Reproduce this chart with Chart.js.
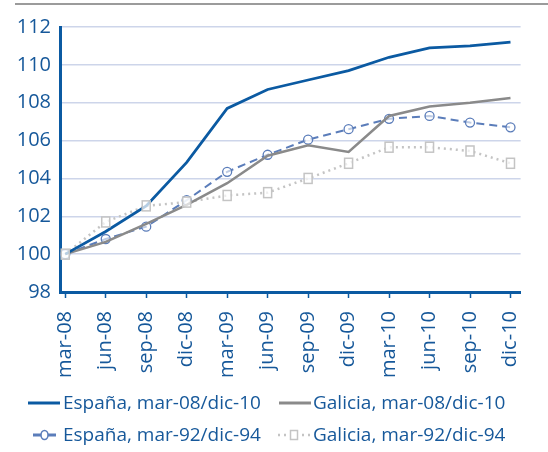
<!DOCTYPE html>
<html>
<head>
<meta charset="utf-8">
<script src="https://cdn.jsdelivr.net/npm/chart.js@4"></script>
<style>
  body { margin: 0; background: #fff; }
</style>
</head>
<body>
<canvas id="lineChart" width="548" height="452"></canvas>
<script>
// Etiquetas del eje X (trimestres)
const labels = ["mar-08", "jun-08", "sep-08", "dic-08", "mar-09", "jun-09",
                "sep-09", "dic-09", "mar-10", "jun-10", "sep-10", "dic-10"];

// Series
const espana0810 = [100, 101.2, 102.55, 104.85, 107.7, 108.7, 109.2, 109.7, 110.4, 110.9, 111.0, 111.2];
const galicia0810 = [100, 100.65, 101.6, 102.6, 103.75, 105.2, 105.75, 105.4, 107.3, 107.8, 108.0, 108.25];
const espana9294 = [100, 100.8, 101.45, 102.85, 104.35, 105.25, 106.05, 106.6, 107.15, 107.3, 106.95, 106.7];
const galicia9294 = [100, 101.7, 102.55, 102.75, 103.1, 103.25, 104.0, 104.8, 105.65, 105.65, 105.45, 104.8];

const seriesNames = ["España, mar-08/dic-10", "Galicia, mar-08/dic-10",
                     "España, mar-92/dic-94", "Galicia, mar-92/dic-94"];

const yTicks = [98, 100, 102, 104, 106, 108, 110, 112];

const azul = "#0B5AA2";
const textoAzul = "#16589A";
const gris = "#8A8A8A";
const azulClaro = "#5B7DBA";
const grisClaro = "#C4C4C4";
const fuente = "'Open Sans', sans-serif";

const toXY = (arr) => arr.map((v, i) => ({ x: i, y: v }));

// Leyenda dibujada a mano (linea + marcador)
const leyenda = {
    id: "leyenda",
    afterDraw(chart) {
        const ctx = chart.ctx;
        ctx.save();
        ctx.font = "19px " + fuente;
        ctx.fillStyle = textoAzul;
        ctx.textBaseline = "middle";
        ctx.textAlign = "left";
        const items = [
            { x0: 28, x1: 60, y: 403, tx: 63, color: azul, dash: [], w: 3, mark: null },
            { x0: 279, x1: 311, y: 403, tx: 313, color: gris, dash: [], w: 3, mark: null },
            { x0: 33, x1: 56, y: 435, tx: 63, color: azulClaro, dash: [], w: 3, mark: "circle" },
            { x0: 278, x1: 310, y: 435, tx: 313, color: grisClaro, dash: [2, 4], w: 2.5, mark: "rect" },
        ];
        items.forEach((it, i) => {
            ctx.beginPath();
            ctx.strokeStyle = it.color;
            ctx.lineWidth = it.w;
            ctx.setLineDash(it.dash);
            ctx.moveTo(it.x0, it.y);
            ctx.lineTo(it.x1, it.y);
            ctx.stroke();
            ctx.setLineDash([]);
            const cx = (it.x0 + it.x1) / 2;
            if (it.mark === "circle") {
                ctx.beginPath();
                ctx.fillStyle = "#fff";
                ctx.lineWidth = 1.5;
                ctx.ellipse(cx, it.y, 3.5, 4.5, 0, 0, Math.PI * 2);
                ctx.fill();
                ctx.stroke();
            } else if (it.mark === "rect") {
                ctx.fillStyle = "#fff";
                ctx.lineWidth = 1.5;
                ctx.fillRect(cx - 3.5, it.y - 4.5, 7, 9);
                ctx.strokeRect(cx - 3.5, it.y - 4.5, 7, 9);
            }
            ctx.fillStyle = textoAzul;
            ctx.fillText(seriesNames[i], it.tx, it.y + 1);
        });
        // linea gris superior
        ctx.beginPath();
        ctx.strokeStyle = "#7a7a7a";
        ctx.lineWidth = 1.5;
        ctx.moveTo(15, 4);
        ctx.lineTo(548, 4);
        ctx.stroke();
        ctx.restore();
    }
};

const data = {
    datasets: [
        {
            label: seriesNames[0],
            data: toXY(espana0810),
            borderColor: azul,
            borderWidth: 2.8,
            pointRadius: 0,
            order: 1,
        },
        {
            label: seriesNames[1],
            data: toXY(galicia0810),
            borderColor: gris,
            borderWidth: 2.5,
            pointRadius: 0,
            order: 2,
        },
        {
            label: seriesNames[2],
            data: toXY(espana9294),
            borderColor: azulClaro,
            borderWidth: 2,
            borderDash: [8, 5],
            pointStyle: "circle",
            pointRadius: 4.5,
            pointBorderWidth: 1.3,
            pointBackgroundColor: "rgba(255,255,255,0.6)",
            pointBorderColor: azulClaro,
            order: 3,
        },
        {
            label: seriesNames[3],
            data: toXY(galicia9294),
            borderColor: grisClaro,
            borderWidth: 2.5,
            borderDash: [2, 4],
            pointRadius: 0,
            order: 4,
        },
    ],
};

// Marcadores cuadrados de la serie punteada
const cuadrados = {
    id: "cuadrados",
    afterDatasetsDraw(chart) {
        const ctx = chart.ctx;
        const meta = chart.getDatasetMeta(3);
        ctx.save();
        ctx.strokeStyle = grisClaro;
        ctx.lineWidth = 1.5;
        ctx.fillStyle = "rgba(255,255,255,0.7)";
        meta.data.forEach((p) => {
            ctx.fillRect(p.x - 4, p.y - 5, 8, 10);
            ctx.strokeRect(p.x - 4, p.y - 5, 8, 10);
        });
        ctx.restore();
    }
};

const config = {
    type: "line",
    data: data,
    options: {
        responsive: false,
        animation: false,
        layout: {
            padding: { top: 27, right: 23, bottom: 64, left: 0 },
        },
        plugins: {
            legend: { display: false },
            tooltip: { enabled: false },
        },
        scales: {
            x: {
                type: "linear",
                min: -0.13,
                max: 11.25,
                afterBuildTicks: (scale) => {
                    scale.ticks = labels.map((_, i) => ({ value: i }));
                },
                afterFit: (scale) => { scale.height = 96; },
                ticks: {
                    callback: (v) => labels[v],
                    maxRotation: 90,
                    minRotation: 90,
                    autoSkip: false,
                    color: textoAzul,
                    font: { family: fuente, size: 20 },
                    padding: 13,
                },
                grid: {
                    drawOnChartArea: false,
                    drawTicks: true,
                    tickLength: 6,
                    tickWidth: 1.5,
                    color: azul,
                },
                border: { color: azul, width: 3 },
            },
            y: {
                min: 98,
                max: 112,
                afterBuildTicks: (scale) => {
                    scale.ticks = yTicks.map((v) => ({ value: v }));
                },
                afterFit: (scale) => { scale.width = 60; },
                ticks: {
                    color: textoAzul,
                    font: { family: fuente, size: 20 },
                    padding: 9,
                },
                grid: {
                    color: "#CDD5EA",
                    lineWidth: 1.5,
                    drawTicks: false,
                },
                border: { color: azul, width: 3 },
            },
        },
    },
    plugins: [cuadrados, leyenda],
};

const lineChart = new Chart(document.getElementById("lineChart"), config);
</script>
</body>
</html>
